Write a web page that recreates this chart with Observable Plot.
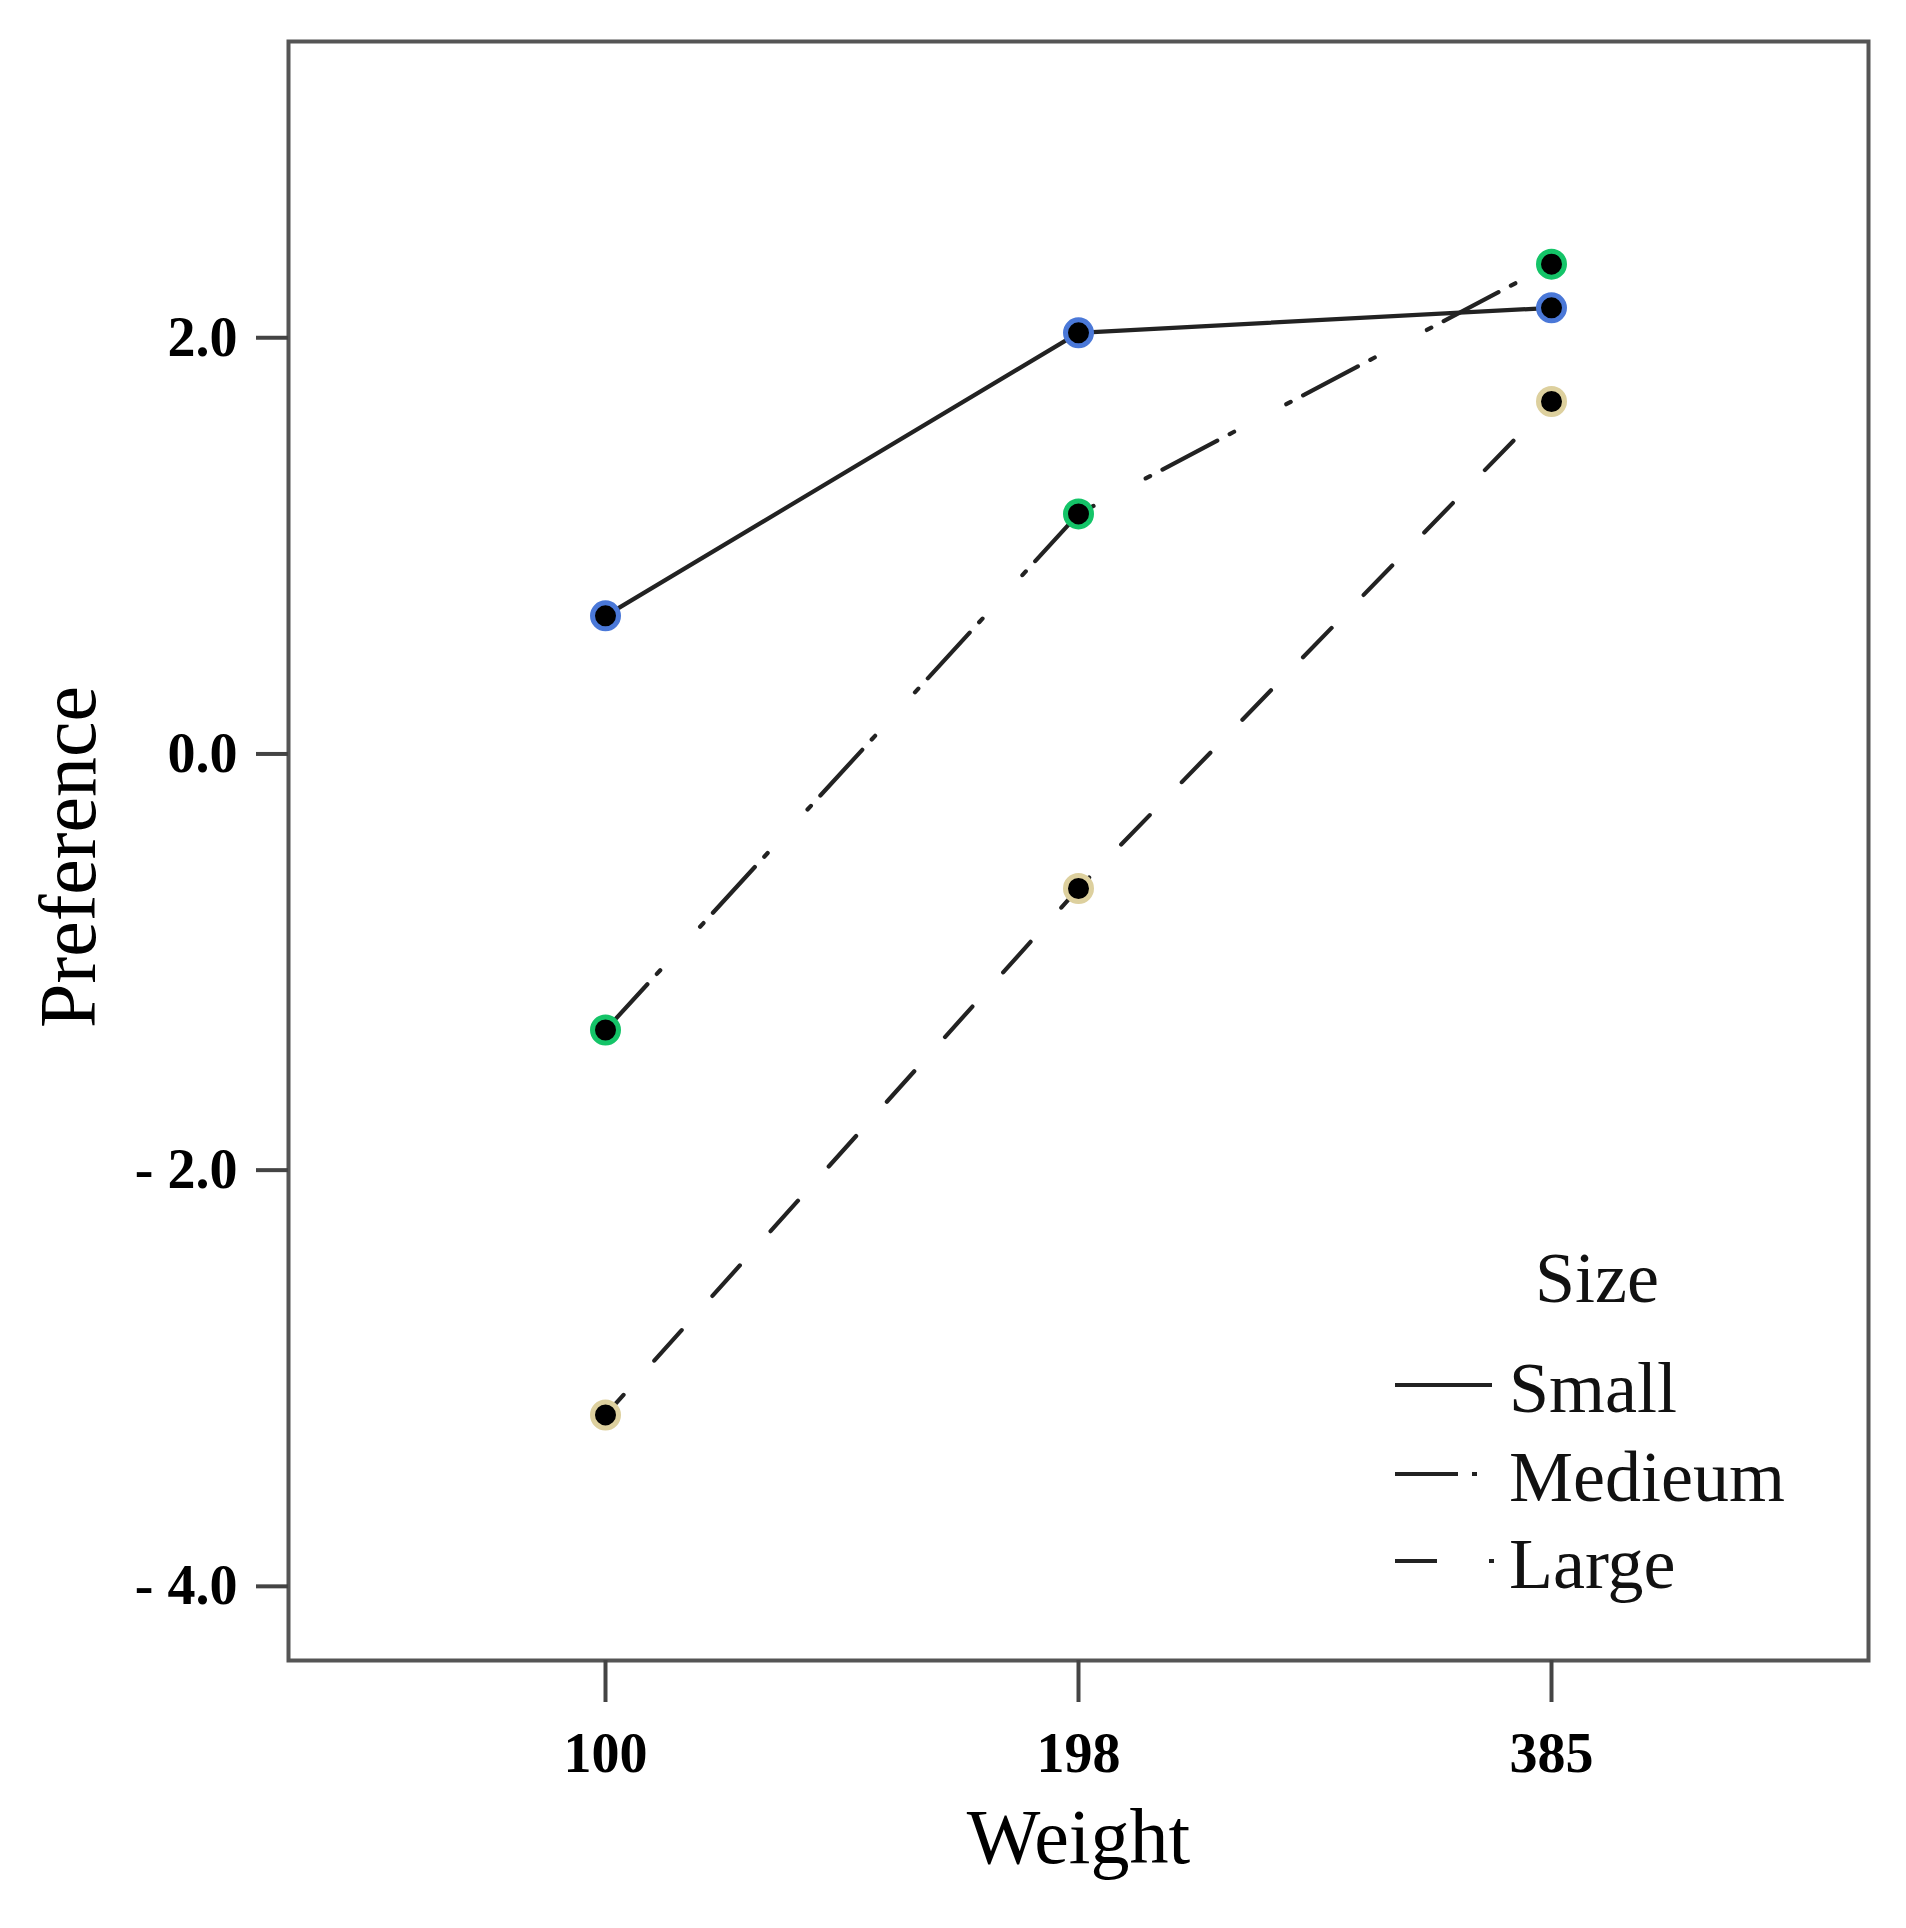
<!DOCTYPE html>
<html><head><meta charset="utf-8">
<script src="https://cdn.jsdelivr.net/npm/d3@7"></script>
<script src="https://cdn.jsdelivr.net/npm/@observablehq/plot@0.6"></script>
<style>
body{margin:0;background:#fff;}
#chart{position:relative;width:1906px;height:1928px;}
#legend{position:absolute;left:0;top:0;pointer-events:none;}
</style></head><body><div id="chart"></div>
<script>
// ---- data ----
const weights = ["100", "198", "385"];
const sizeNames = ["Small", "Medieum", "Large"];
const smallValues = [0.63, 1.99, 2.11];
const mediumValues = [-1.36, 1.12, 2.32];
const largeValues = [-3.21, -0.68, 1.66];
const yTicks = [-4, -2, 0, 2];
const yTickLabels = ["- 4.0", "- 2.0", "0.0", "2.0"];
const legendTitle = "Size";
const xLabel = "Weight";
const yLabel = "Preference";

// ---- styles ----
const haloColors = ["#4a78d8", "#14c468", "#ddd09e"];
const dashPatterns = [null, "62,14,5,59,5,14", "41,46"];
const dashOffsets = [0, 0, 14];

const seriesValues = [smallValues, mediumValues, largeValues];
const rows = sizeNames.flatMap((s, i) => weights.map((w, j) => ({size: s, weight: w, value: seriesValues[i][j], halo: haloColors[i]})));

const serif = "'Liberation Serif', 'Times New Roman', serif";

const lineMarks = sizeNames.map((s, i) => Plot.line(rows.filter(d => d.size === s), {
  x: "weight", y: "value", stroke: "#222", strokeWidth: 4.2,
  strokeDasharray: dashPatterns[i] || undefined, strokeDashoffset: dashOffsets[i]
}));

const chart = Plot.plot({
  width: 1906, height: 1928,
  marginLeft: 288, marginRight: 38, marginTop: 41, marginBottom: 268,
  style: {fontFamily: serif, background: "white", color: "#000"},
  x: {type: "point", domain: weights, padding: 0.667},
  y: {domain: [-4.39, 3.39]},
  color: {type: "identity"},
  marks: [
    Plot.frame({stroke: "#555", strokeWidth: 4}),
    Plot.axisX({tickSize: 42, tickPadding: 30, fontSize: 56, fontWeight: "bold", stroke: "#444", strokeWidth: 4, fill: "#000", label: null}),
    Plot.axisY({ticks: yTicks, tickFormat: d => yTickLabels[yTicks.indexOf(d)], tickSize: 32, tickPadding: 19, dy: 7, fontSize: 56, fontWeight: "bold", stroke: "#444", strokeWidth: 4, fill: "#000", label: null}),
    Plot.text([xLabel], {frameAnchor: "bottom", lineAnchor: "bottom", textAnchor: "middle", dy: 202, fontSize: 78, fill: "#000", text: d => d}),
    Plot.text([yLabel], {frameAnchor: "left", lineAnchor: "top", textAnchor: "middle", rotate: -90, dx: -250, dy: 6, fontSize: 80, fill: "#000", text: d => d}),
    ...lineMarks,
    Plot.dot(rows, {x: "weight", y: "value", r: 13, fill: "#000", stroke: "halo", strokeWidth: 5})
  ]
});

const container = document.getElementById("chart");
container.appendChild(chart);

// ---- legend overlay ----
const lg = d3.select(container).append("svg").attr("id", "legend")
  .attr("width", 1906).attr("height", 1928);
lg.append("text").attr("x", 1597).attr("y", 1302).attr("text-anchor", "middle")
  .attr("font-family", serif).attr("font-size", 72).attr("fill", "#111").text(legendTitle);
const legendRows = [
  {y: 1412, x2: 1492, dash: null},
  {y: 1501, x2: 1479, dash: "63,14,5,100"},
  {y: 1588, x2: 1494, dash: "42,52,5,100"}
];
legendRows.forEach((r, i) => {
  const ln = lg.append("line").attr("x1", 1395).attr("x2", r.x2)
    .attr("y1", r.y - 27).attr("y2", r.y - 27)
    .attr("stroke", "#222").attr("stroke-width", 4.2);
  if (r.dash) ln.attr("stroke-dasharray", r.dash);
  lg.append("text").attr("x", 1509).attr("y", r.y)
    .attr("font-family", serif).attr("font-size", 72).attr("fill", "#111").text(sizeNames[i]);
});
</script>
</body></html>
